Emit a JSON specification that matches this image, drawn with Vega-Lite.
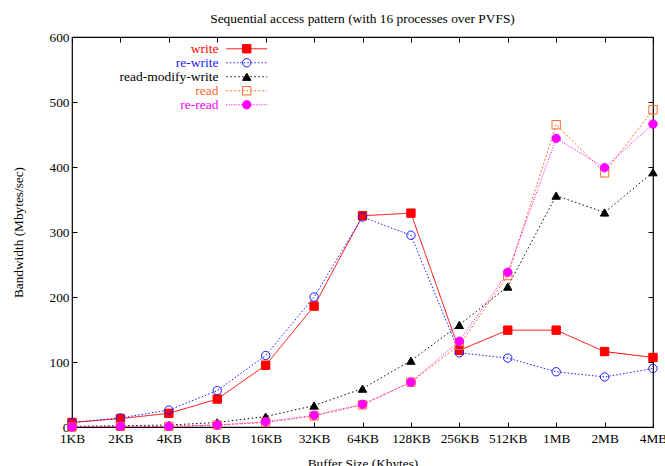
{
  "$schema": "https://vega.github.io/schema/vega-lite/v6.json",
  "width": 581,
  "height": 390,
  "autosize": {"type": "none"},
  "padding": {"left": 72, "top": 37, "right": 12, "bottom": 39},
  "background": "white",
  "config": {
    "font": "Liberation Serif",
    "view": {"stroke": "black", "strokeWidth": 1.2},
    "axis": {"grid": false, "labelFont": "Liberation Serif", "labelFontSize": 13.3, "labelColor": "black", "titleFont": "Liberation Serif", "titleFontSize": 13.3, "titleFontWeight": "normal", "titleColor": "black", "domain": false, "tickColor": "black", "tickWidth": 1},
    "legend": {"labelFont": "Liberation Serif", "labelFontSize": 13.5, "padding": 0, "rowPadding": -1, "title": null}
  },
  "title": {"text": "Sequential access pattern (with 16 processes over PVFS)", "font": "Liberation Serif", "fontSize": 13.4, "fontWeight": "normal", "color": "black", "baseline": "alphabetic", "offset": 14, "dy": 20},
  "data": {"values": [
    {"size": "1KB", "series": "write", "bw": 7},
    {"size": "2KB", "series": "write", "bw": 13},
    {"size": "4KB", "series": "write", "bw": 21},
    {"size": "8KB", "series": "write", "bw": 43},
    {"size": "16KB", "series": "write", "bw": 95},
    {"size": "32KB", "series": "write", "bw": 186},
    {"size": "64KB", "series": "write", "bw": 325},
    {"size": "128KB", "series": "write", "bw": 329},
    {"size": "256KB", "series": "write", "bw": 118},
    {"size": "512KB", "series": "write", "bw": 149},
    {"size": "1MB", "series": "write", "bw": 149},
    {"size": "2MB", "series": "write", "bw": 116},
    {"size": "4MB", "series": "write", "bw": 107},
    {"size": "1KB", "series": "re-write", "bw": 7},
    {"size": "2KB", "series": "re-write", "bw": 14},
    {"size": "4KB", "series": "re-write", "bw": 26},
    {"size": "8KB", "series": "re-write", "bw": 56},
    {"size": "16KB", "series": "re-write", "bw": 110},
    {"size": "32KB", "series": "re-write", "bw": 200},
    {"size": "64KB", "series": "re-write", "bw": 323},
    {"size": "128KB", "series": "re-write", "bw": 295},
    {"size": "256KB", "series": "re-write", "bw": 114},
    {"size": "512KB", "series": "re-write", "bw": 106},
    {"size": "1MB", "series": "re-write", "bw": 85},
    {"size": "2MB", "series": "re-write", "bw": 77},
    {"size": "4MB", "series": "re-write", "bw": 90},
    {"size": "1KB", "series": "read-modify-write", "bw": 1},
    {"size": "2KB", "series": "read-modify-write", "bw": 2},
    {"size": "4KB", "series": "read-modify-write", "bw": 3},
    {"size": "8KB", "series": "read-modify-write", "bw": 7},
    {"size": "16KB", "series": "read-modify-write", "bw": 16},
    {"size": "32KB", "series": "read-modify-write", "bw": 33},
    {"size": "64KB", "series": "read-modify-write", "bw": 59},
    {"size": "128KB", "series": "read-modify-write", "bw": 102},
    {"size": "256KB", "series": "read-modify-write", "bw": 157},
    {"size": "512KB", "series": "read-modify-write", "bw": 216},
    {"size": "1MB", "series": "read-modify-write", "bw": 356},
    {"size": "2MB", "series": "read-modify-write", "bw": 330},
    {"size": "4MB", "series": "read-modify-write", "bw": 392},
    {"size": "1KB", "series": "read", "bw": 0},
    {"size": "2KB", "series": "read", "bw": 1},
    {"size": "4KB", "series": "read", "bw": 1},
    {"size": "8KB", "series": "read", "bw": 3},
    {"size": "16KB", "series": "read", "bw": 7},
    {"size": "32KB", "series": "read", "bw": 17},
    {"size": "64KB", "series": "read", "bw": 34},
    {"size": "128KB", "series": "read", "bw": 69},
    {"size": "256KB", "series": "read", "bw": 126},
    {"size": "512KB", "series": "read", "bw": 233},
    {"size": "1MB", "series": "read", "bw": 465},
    {"size": "2MB", "series": "read", "bw": 391},
    {"size": "4MB", "series": "read", "bw": 488},
    {"size": "1KB", "series": "re-read", "bw": 0},
    {"size": "2KB", "series": "re-read", "bw": 1},
    {"size": "4KB", "series": "re-read", "bw": 1},
    {"size": "8KB", "series": "re-read", "bw": 3},
    {"size": "16KB", "series": "re-read", "bw": 8},
    {"size": "32KB", "series": "re-read", "bw": 18},
    {"size": "64KB", "series": "re-read", "bw": 35},
    {"size": "128KB", "series": "re-read", "bw": 69},
    {"size": "256KB", "series": "re-read", "bw": 132},
    {"size": "512KB", "series": "re-read", "bw": 238},
    {"size": "1MB", "series": "re-read", "bw": 444},
    {"size": "2MB", "series": "re-read", "bw": 399},
    {"size": "4MB", "series": "re-read", "bw": 466}
  ]},
  "resolve": {"axis": {"x": "independent", "y": "independent"}},
  "layer": [
    {
      "mark": {"type": "line", "strokeWidth": 1, "clip": true},
      "encoding": {
        "x": {"field": "size", "type": "ordinal", "sort": null,
              "scale": {"type": "point", "padding": 0},
              "axis": {"orient": "bottom", "labelAngle": 0, "tickSize": -5, "labelPadding": 9, "title": "Buffer Size (Kbytes)", "titleBaseline": "top", "titleY": 29}},
        "y": {"field": "bw", "type": "quantitative",
              "scale": {"domain": [0, 600], "nice": false},
              "axis": {"orient": "left", "values": [0, 100, 200, 300, 400, 500, 600], "tickSize": -5, "labelPadding": 8, "title": "Bandwidth (Mbytes/sec)", "titleX": -50, "titleY": 195, "titleAngle": -90, "titleBaseline": "alphabetic", "titleAlign": "center"}},
        "color": {"field": "series", "type": "nominal",
                  "scale": {"domain": ["write", "re-write", "read-modify-write", "read", "re-read"], "range": ["#ff0000", "#1a1aff", "#000000", "#ff6a2a", "#ff00ff"]},
                  "legend": {"orient": "none", "legendX": 168, "legendY": 5, "symbolType": "M-5,0H5", "symbolSize": 67, "symbolStrokeWidth": 1, "labelAlign": "right", "labelOffset": -35,
                             "encode": {"labels": {"update": {"fill": {"scale": "color", "field": "value"}}}}}},
        "strokeDash": {"field": "series", "type": "nominal",
                       "scale": {"domain": ["write", "re-write", "read-modify-write", "read", "re-read"], "range": [[1, 0], [1.5, 2], [1.5, 2.5], [2, 2], [1, 1.5]]},
                       "legend": {"orient": "none", "legendX": 168, "legendY": 5, "symbolType": "M-5,0H5", "symbolSize": 67, "symbolStrokeWidth": 1, "labelAlign": "right", "labelOffset": -35}}
      }
    },
    {
      "mark": {"type": "point", "size": 70, "strokeWidth": 1, "opacity": 1},
      "encoding": {
        "x": {"field": "size", "type": "ordinal", "sort": null,
              "axis": {"orient": "top", "labels": false, "tickSize": -5, "title": null}},
        "y": {"field": "bw", "type": "quantitative",
              "axis": {"orient": "right", "labels": false, "values": [0, 100, 200, 300, 400, 500, 600], "tickSize": -5, "title": null}},
        "shape": {"field": "series", "type": "nominal", "sort": null,
                  "scale": {"range": ["square", "circle", "triangle-up", "square", "circle"]},
                  "legend": {"orient": "none", "legendX": 168, "legendY": 5, "symbolSize": 70, "symbolStrokeWidth": 1, "labelOpacity": 0}},
        "fill": {"field": "series", "type": "nominal", "sort": null,
                 "scale": {"range": ["#ff0000", "rgba(255,255,255,0)", "#000000", "rgba(255,255,255,0)", "#ff00ff"]},
                 "legend": {"orient": "none", "legendX": 168, "legendY": 5, "symbolSize": 70, "symbolStrokeWidth": 1, "labelOpacity": 0}},
        "stroke": {"field": "series", "type": "nominal", "sort": null,
                   "scale": {"range": ["#ff0000", "#1a1aff", "#000000", "#ff6a2a", "#ff00ff"]},
                   "legend": {"orient": "none", "legendX": 168, "legendY": 5, "symbolSize": 70, "symbolStrokeWidth": 1, "labelOpacity": 0}}
      }
    }
  ]
}
